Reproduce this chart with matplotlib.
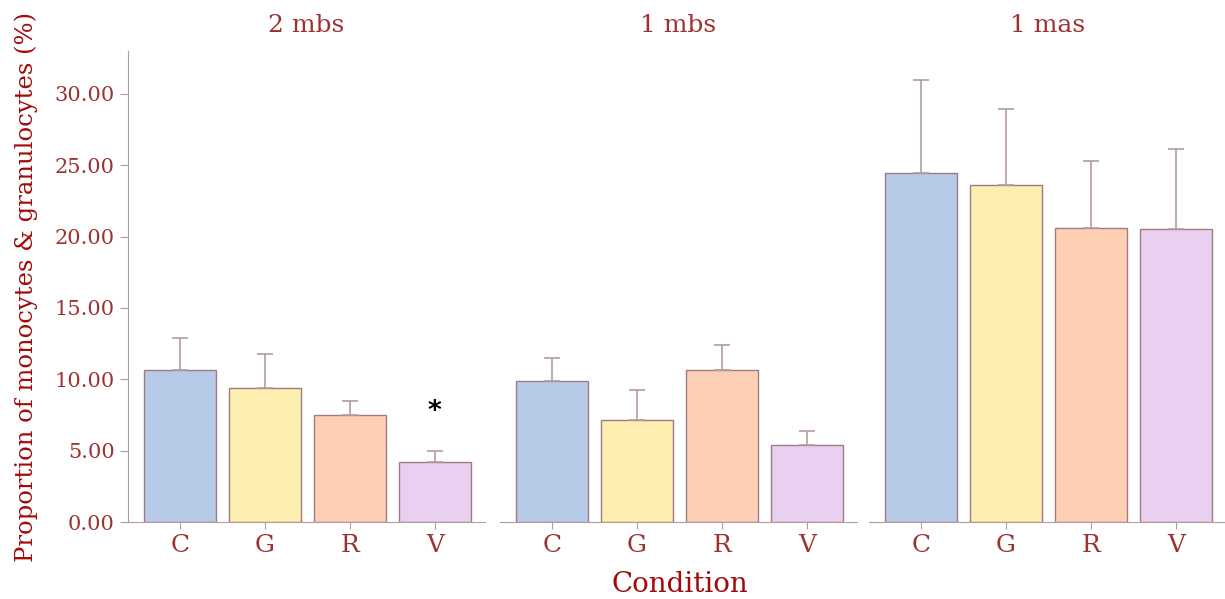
import numpy as np
import matplotlib
matplotlib.use('Agg')
import matplotlib.pyplot as plt

# Data
panels = ['2 mbs', '1 mbs', '1 mas']
conditions = ['C', 'G', 'R', 'V']
means = [
    [10.65, 9.42, 7.52, 4.22],
    [9.90, 7.15, 10.65, 5.40],
    [24.46, 23.62, 20.60, 20.53],
]
upper = [
    [12.92, 11.76, 8.45, 4.98],
    [11.50, 9.25, 12.38, 6.38],
    [31.00, 28.92, 25.28, 26.10],
]
yticks = [0, 5, 10, 15, 20, 25, 30]

colors = ['#b7cbe9', '#fdeeb1', '#fed0b3', '#e9cff0']
edge = '#a07a82'
spine_col = '#b39ca0'
tick_col = '#9b3333'
label_col = '#a00a0a'

plt.rcParams['font.family'] = ['DejaVu Serif']

fig = plt.figure(figsize=(12.25, 5.99), dpi=100)
lefts = [128, 500, 869]
width = 357
bottom = 1 - 522 / 599
height = (522 - 51) / 599

axes = []
for i, p in enumerate(panels):
    ax = fig.add_axes([lefts[i] / 1225, bottom, width / 1225, height])
    axes.append(ax)
    x = np.arange(len(conditions))
    m = np.array(means[i])
    err = np.array(upper[i]) - m
    ax.bar(x, m, width=0.85, color=colors, edgecolor=edge, linewidth=1.0, zorder=2)
    ax.errorbar(x, m, yerr=[np.zeros_like(err), err], fmt='none', ecolor=spine_col,
                elinewidth=1.2, capsize=6, capthick=1.2, zorder=3)
    ax.set_xlim(-0.61, 3.59)
    ax.set_ylim(0, 33)
    ax.set_xticks(x)
    ax.set_xticklabels(conditions, fontsize=18, color=tick_col)
    ax.set_title(p, fontsize=18, color=tick_col, pad=14)
    for s in ['top', 'right']:
        ax.spines[s].set_visible(False)
    ax.spines['bottom'].set_color(spine_col)
    ax.spines['left'].set_color(spine_col)
    ax.tick_params(axis='x', colors=spine_col, length=5, labelcolor=tick_col, pad=4)
    if i == 0:
        ax.set_yticks(yticks)
        ax.set_yticklabels(['%.2f' % v for v in yticks], fontsize=15, color=tick_col)
        ax.tick_params(axis='y', colors=spine_col, length=6, labelcolor=tick_col)
        ax.set_ylabel('Proportion of monocytes & granulocytes (%)', fontsize=17.5,
                      color=label_col, labelpad=12)
    else:
        ax.spines['left'].set_visible(False)
        ax.set_yticks([])

# significance marker
axes[0].text(3, 7.7, '*', ha='center', va='center', fontsize=19,
             color='black', family='DejaVu Sans', fontweight='bold')

fig.text(680 / 1225, 1 - 584 / 599, 'Condition', ha='center', va='center',
         fontsize=20, color=label_col)

fig.savefig('out.png', dpi=100)
